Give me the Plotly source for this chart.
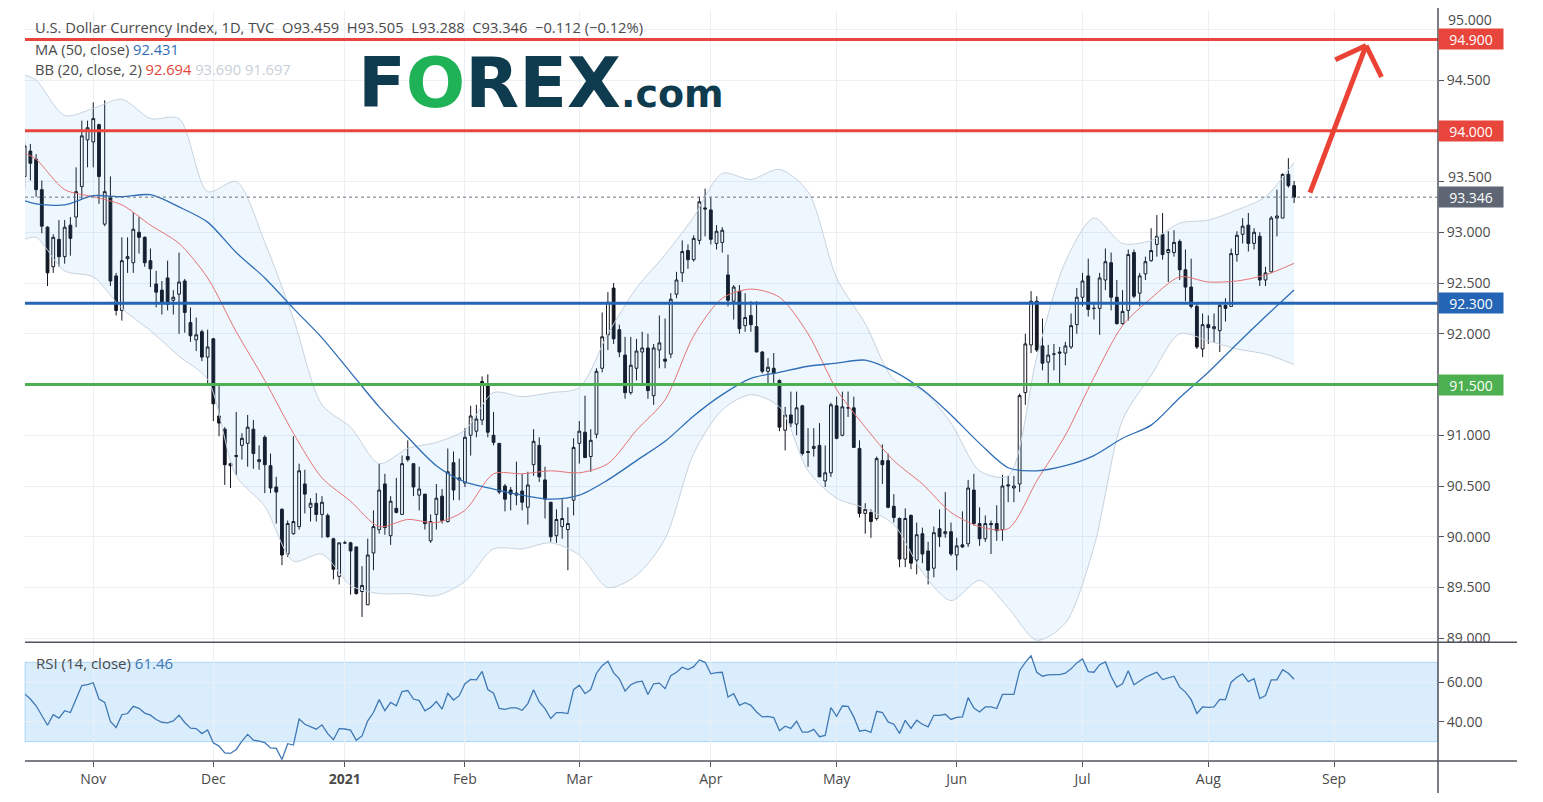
import pandas as pd
import plotly.graph_objects as go

# U.S. Dollar Index (TVC:DXY), daily bars 15 Oct 2020 - 23 Aug 2021, one line per month
dates = pd.bdate_range("2020-10-15", "2021-08-23") + pd.Timedelta(hours=12)

opens = [
    93.55, 93.80, 93.72, 93.42, 93.05, 92.66, 92.93, 92.76, 93.07, 93.15, 93.45, 93.91,
    93.89, 94.06, 93.08, 93.35, 92.57, 92.23, 92.74, 92.70, 93.00, 92.95, 92.72, 92.49, 92.43, 92.55, 92.33, 92.39, 92.52, 92.11, 91.94, 92.02, 91.77,
    91.95, 91.19, 91.06, 90.72, 90.79, 90.90, 90.92, 91.06, 90.74, 90.98, 90.70, 90.49, 90.27, 89.83, 90.03, 90.10, 90.52, 90.29, 90.33, 90.22, 90.21, 89.98, 89.61,
    89.94, 89.94, 89.90, 89.46, 89.33, 89.84, 90.07, 90.52, 90.01, 90.28, 90.22, 90.79, 90.72, 90.41, 90.42, 89.96, 90.22, 90.40, 90.15, 90.73, 90.56,
    90.53, 91.00, 91.04, 91.15, 91.49, 91.00, 90.92, 90.50, 90.46, 90.41, 90.45, 90.29, 90.71, 90.90, 90.56, 90.34, 90.01, 90.10, 90.07, 90.36,
    90.92, 91.03, 90.79, 91.01, 91.66, 91.99, 92.45, 92.04, 91.79, 91.42, 91.66, 91.82, 91.86, 91.39, 91.84, 91.75, 91.80, 92.39, 92.60, 92.82, 92.73, 92.92, 93.24,
    93.22, 92.89, 92.90, 92.58, 92.32, 92.42, 92.08, 92.18, 92.07, 91.82, 91.63, 91.66, 91.54, 91.05, 91.20, 91.11, 91.29, 90.84, 90.87, 90.90, 90.55, 90.63,
    91.29, 91.00, 91.27, 91.27, 90.87, 90.23, 90.24, 90.18, 90.75, 90.75, 90.30, 90.18, 89.78, 90.21, 89.77, 90.03, 89.86, 89.69, 90.08, 90.03, 90.05,
    89.82, 89.92, 89.93, 90.46, 90.13, 89.98, 90.13, 90.13, 90.07, 90.50, 90.48, 90.52, 91.42, 91.89, 92.32, 91.88, 91.72, 91.80, 91.82, 91.81, 91.87, 92.09,
    92.36, 92.57, 92.25, 92.25, 92.53, 92.70, 92.36, 92.10, 92.23, 92.80, 92.40, 92.59, 92.72, 92.88, 92.98, 92.80, 92.80, 92.91, 92.63, 92.46, 92.27, 91.85,
    92.09, 92.05, 92.03, 92.28, 92.27, 92.78, 92.98, 93.07, 92.89, 92.96, 92.53, 92.61, 93.14, 93.14, 93.57, 93.459,
]
highs = [
    93.90, 93.87, 93.77, 93.51, 93.06, 92.98, 93.12, 93.12, 93.15, 93.64, 94.10, 94.10,
    94.28, 94.07, 94.30, 93.55, 92.60, 92.95, 92.95, 93.20, 93.15, 92.96, 92.84, 92.62, 92.52, 92.72, 92.43, 92.80, 92.54, 92.26, 92.16, 92.04, 92.04,
    91.96, 91.50, 91.08, 90.73, 91.23, 91.02, 91.20, 91.15, 90.90, 91.00, 90.82, 90.59, 90.28, 90.16, 90.99, 90.72, 90.66, 90.38, 90.43, 90.40, 90.23, 89.99, 89.94,
    89.96, 89.95, 89.90, 89.71, 89.98, 90.26, 90.72, 90.62, 90.40, 90.58, 90.80, 90.95, 90.72, 90.69, 90.42, 90.22, 90.52, 90.47, 90.87, 90.84, 90.77,
    91.07, 91.29, 91.30, 91.58, 91.60, 91.23, 90.92, 90.52, 90.49, 90.74, 90.62, 90.64, 91.06, 90.98, 90.69, 90.34, 90.27, 90.37, 90.29, 90.97,
    91.14, 91.39, 91.06, 91.66, 92.21, 92.41, 92.50, 92.09, 91.97, 91.97, 91.95, 92.02, 92.00, 91.90, 92.18, 92.15, 92.40, 92.61, 92.92, 92.88, 92.97, 93.35, 93.43,
    93.34, 93.07, 93.05, 92.78, 92.48, 92.48, 92.40, 92.32, 92.32, 91.83, 91.76, 91.81, 91.55, 91.28, 91.43, 91.43, 91.30, 91.07, 91.07, 91.12, 90.90, 91.32,
    91.38, 91.43, 91.43, 91.38, 90.95, 90.33, 90.27, 90.79, 90.91, 90.82, 90.42, 90.19, 90.28, 90.22, 90.14, 90.09, 89.95, 90.10, 90.27, 90.44, 90.14,
    89.99, 90.25, 90.56, 90.62, 90.29, 90.21, 90.16, 90.31, 90.61, 90.60, 90.60, 91.41, 92.00, 92.42, 92.37, 92.15, 91.89, 91.90, 91.87, 91.92, 92.20, 92.45,
    92.60, 92.74, 92.30, 92.60, 92.84, 92.80, 92.53, 92.43, 92.83, 92.83, 92.60, 92.76, 93.04, 93.17, 93.19, 93.01, 93.02, 92.93, 92.83, 92.74, 92.30, 92.20,
    92.18, 92.20, 92.30, 92.35, 92.84, 93.01, 93.14, 93.19, 93.04, 93.00, 92.66, 93.16, 93.42, 93.58, 93.73, 93.505,
]
lows = [
    93.43, 93.51, 93.35, 92.99, 92.47, 92.60, 92.66, 92.69, 92.77, 93.05, 93.33, 93.64,
    93.64, 93.28, 93.06, 92.47, 92.18, 92.13, 92.60, 92.60, 92.79, 92.66, 92.46, 92.26, 92.19, 92.23, 92.19, 92.00, 92.01, 91.92, 91.83, 91.73, 91.50,
    91.14, 90.99, 90.51, 90.48, 90.61, 90.76, 90.69, 90.67, 90.66, 90.43, 90.43, 90.13, 89.72, 89.80, 90.02, 90.07, 90.23, 90.15, 90.15, 89.99, 89.99, 89.58, 89.53,
    89.93, 89.43, 89.43, 89.21, 89.33, 89.67, 90.03, 90.02, 89.92, 90.23, 90.22, 90.74, 90.40, 90.26, 90.07, 89.94, 90.07, 90.13, 90.14, 90.36, 90.36,
    90.49, 90.80, 90.98, 91.10, 90.98, 90.90, 90.42, 90.25, 90.26, 90.31, 90.26, 90.12, 90.60, 90.54, 90.18, 89.95, 89.94, 89.98, 89.67, 90.21,
    90.72, 90.78, 90.64, 90.97, 91.62, 91.84, 91.90, 91.77, 91.36, 91.40, 91.54, 91.50, 91.36, 91.30, 91.66, 91.66, 91.76, 92.35, 92.51, 92.64, 92.71, 92.88, 92.96,
    92.88, 92.83, 92.80, 92.27, 92.14, 92.00, 92.02, 92.02, 91.82, 91.61, 91.50, 91.50, 91.04, 90.85, 91.08, 91.00, 90.80, 90.69, 90.79, 90.59, 90.49, 90.59,
    90.96, 90.99, 91.18, 90.88, 90.19, 90.03, 89.99, 90.16, 90.52, 90.28, 90.14, 89.70, 89.70, 89.68, 89.63, 89.74, 89.53, 89.60, 89.90, 89.99, 89.81,
    89.67, 89.89, 89.90, 90.11, 89.91, 89.95, 89.83, 89.96, 89.96, 90.34, 90.34, 90.44, 91.30, 91.81, 91.82, 91.64, 91.51, 91.64, 91.51, 91.69, 91.85, 92.00,
    92.27, 92.17, 92.14, 91.99, 92.43, 92.23, 92.09, 92.09, 92.13, 92.35, 92.27, 92.53, 92.71, 92.76, 92.73, 92.51, 92.76, 92.53, 92.32, 92.25, 91.85, 91.77,
    91.90, 91.91, 91.82, 92.12, 92.27, 92.71, 92.89, 92.81, 92.83, 92.47, 92.47, 92.60, 92.96, 93.14, 93.44, 93.288,
]
closes = [
    93.85, 93.68, 93.42, 93.06, 92.60, 92.95, 92.76, 93.05, 92.94, 93.40, 93.95, 94.03,
    94.12, 93.55, 93.40, 92.52, 92.23, 92.72, 92.76, 93.03, 92.95, 92.70, 92.64, 92.41, 92.31, 92.29, 92.36, 92.51, 92.21, 91.98, 91.99, 91.77, 91.87,
    91.31, 91.12, 90.71, 90.70, 90.80, 90.97, 91.08, 90.82, 90.76, 90.71, 90.48, 90.44, 89.82, 90.13, 90.15, 90.65, 90.42, 90.33, 90.22, 90.34, 90.00, 89.68, 89.94,
    89.94, 89.86, 89.44, 89.52, 89.82, 90.10, 90.46, 90.09, 90.35, 90.24, 90.72, 90.76, 90.49, 90.47, 90.13, 90.15, 90.38, 90.16, 90.64, 90.46, 90.58,
    90.98, 91.19, 91.16, 91.53, 91.03, 90.93, 90.44, 90.37, 90.42, 90.43, 90.34, 90.51, 90.94, 90.59, 90.37, 90.00, 90.17, 90.18, 90.13, 90.88,
    91.04, 90.78, 90.95, 91.63, 91.97, 92.31, 91.95, 91.82, 91.42, 91.69, 91.83, 91.86, 91.44, 91.86, 91.91, 91.73, 92.34, 92.53, 92.81, 92.73, 92.94, 93.30, 93.23,
    92.93, 93.01, 93.02, 92.33, 92.46, 92.05, 92.16, 92.09, 91.82, 91.63, 91.67, 91.61, 91.08, 91.20, 91.12, 91.27, 90.82, 90.83, 90.89, 90.59, 90.63, 91.30,
    90.97, 91.28, 91.27, 90.88, 90.23, 90.27, 90.15, 90.77, 90.71, 90.29, 90.19, 89.78, 90.18, 89.74, 90.02, 89.83, 89.67, 90.04, 90.00, 90.05, 89.83,
    89.91, 89.90, 90.48, 90.13, 89.98, 90.13, 90.12, 90.06, 90.50, 90.51, 90.50, 91.39, 91.90, 92.32, 91.84, 91.71, 91.79, 91.80, 91.81, 91.88, 92.08, 92.36,
    92.52, 92.24, 92.25, 92.55, 92.71, 92.36, 92.10, 92.22, 92.78, 92.37, 92.57, 92.71, 92.82, 92.96, 92.78, 92.83, 92.90, 92.63, 92.46, 92.27, 91.87, 92.09,
    92.06, 92.07, 92.28, 92.25, 92.79, 92.97, 93.06, 92.89, 93.00, 92.53, 92.60, 93.14, 93.16, 93.57, 93.459, 93.346,
]
rsi = [
    54.1, 51.5, 48.1, 43.1, 38.3, 43.6, 41.9, 45.6, 44.7, 51.5, 58.3, 58.8,
    59.7, 51.5, 49.8, 40.2, 37.1, 43.6, 44.2, 47.8, 46.8, 44.4, 43.4, 41.2, 39.8, 39.5, 40.5, 43.4, 39.7, 36.8, 36.6, 34.1, 35.9,
    29.5, 27.8, 24.4, 24.1, 26.1, 30.3, 33.7, 30.8, 30.3, 29.5, 26.9, 26.6, 21.0, 29.0, 28.3, 41.4, 38.8, 37.5, 36.3, 38.5, 34.1, 31.0, 36.6,
    36.4, 35.8, 30.7, 32.9, 40.5, 44.7, 51.2, 45.6, 49.8, 48.1, 55.3, 55.8, 51.5, 50.7, 45.6, 47.3, 50.2, 46.4, 54.4, 51.0, 53.2,
    59.2, 61.4, 61.2, 65.4, 56.3, 54.4, 46.8, 46.3, 47.0, 47.0, 45.8, 49.2, 56.2, 50.0, 46.7, 41.7, 44.7, 44.7, 44.2, 56.2,
    58.5, 54.2, 56.3, 64.5, 68.3, 70.5, 64.7, 61.7, 55.5, 58.7, 60.0, 60.5, 53.8, 59.2, 59.5, 56.7, 63.3, 65.0, 67.5, 66.3, 67.8, 71.2, 70.0,
    64.2, 64.8, 65.0, 52.5, 54.2, 48.3, 49.7, 48.3, 45.0, 42.5, 42.8, 42.2, 35.5, 37.8, 36.7, 40.3, 34.8, 34.8, 36.2, 32.5, 33.2, 47.2,
    42.8, 48.0, 47.8, 42.5, 35.3, 35.8, 34.7, 45.3, 44.7, 40.0, 38.8, 34.2, 40.8, 36.7, 40.8, 38.8, 37.5, 43.3, 43.3, 43.8, 41.2,
    42.3, 42.5, 52.2, 47.0, 45.0, 47.5, 47.5, 46.7, 53.8, 53.8, 53.8, 65.8, 70.0, 73.3, 65.0, 63.0, 63.7, 63.8, 63.8, 64.5, 66.7, 69.7,
    71.7, 65.3, 65.0, 68.8, 70.2, 62.8, 57.5, 59.2, 65.7, 58.7, 60.8, 62.5, 63.8, 65.0, 61.3, 62.0, 63.0, 57.5, 55.0, 51.2, 44.2, 47.5,
    47.3, 47.5, 51.3, 51.2, 60.0, 62.5, 64.2, 60.3, 61.7, 51.7, 53.3, 61.2, 61.2, 66.3, 64.5, 61.46,
]

# indicator lines
ind_dates = [
    "2020-10-15", "2020-10-19", "2020-10-26", "2020-11-02", "2020-11-09", "2020-11-16", "2020-11-23", "2020-11-30",
    "2020-12-07", "2020-12-14", "2020-12-21", "2020-12-28", "2021-01-04", "2021-01-11", "2021-01-18", "2021-01-25",
    "2021-02-01", "2021-02-08", "2021-02-15", "2021-02-22", "2021-03-01", "2021-03-08", "2021-03-15", "2021-03-22",
    "2021-03-29", "2021-04-05", "2021-04-12", "2021-04-19", "2021-04-26", "2021-05-03", "2021-05-10", "2021-05-17",
    "2021-05-24", "2021-05-31", "2021-06-07", "2021-06-14", "2021-06-21", "2021-06-28", "2021-07-05", "2021-07-12",
    "2021-07-19", "2021-07-26", "2021-08-02", "2021-08-09", "2021-08-16", "2021-08-23",
]
ma50 = [93.31, 93.28, 93.27, 93.36, 93.35, 93.37, 93.25, 93.10, 92.80, 92.55, 92.25, 91.96, 91.62, 91.28, 90.98, 90.70,
        90.54, 90.47, 90.41, 90.37, 90.41, 90.56, 90.75, 90.94, 91.19, 91.40, 91.56, 91.62, 91.68, 91.71, 91.74, 91.63,
        91.45, 91.20, 90.92, 90.68, 90.65, 90.70, 90.80, 90.97, 91.10, 91.37, 91.62, 91.90, 92.17, 92.431]
bb_mid = [93.78, 93.72, 93.42, 93.35, 93.27, 93.07, 92.89, 92.55, 92.02, 91.54, 91.02, 90.58, 90.35, 90.10, 90.17, 90.14,
          90.26, 90.62, 90.62, 90.65, 90.63, 90.72, 91.05, 91.35, 91.98, 92.35, 92.44, 92.36, 92.00, 91.45, 91.08, 90.75,
          90.52, 90.24, 90.10, 90.08, 90.55, 91.00, 91.57, 92.08, 92.35, 92.56, 92.51, 92.52, 92.58, 92.694]
bb_up = [94.55, 94.50, 94.15, 94.22, 94.31, 94.12, 94.12, 93.40, 93.50, 92.90, 92.15, 91.30, 91.08, 90.72, 90.87, 90.93,
         91.05, 91.42, 91.38, 91.42, 91.47, 92.00, 92.45, 92.78, 93.15, 93.58, 93.52, 93.62, 93.40, 92.55, 92.10, 91.55,
         91.44, 91.12, 90.65, 90.60, 91.77, 92.71, 93.14, 92.89, 92.92, 93.09, 93.12, 93.22, 93.35, 93.69]
bb_lo = [92.93, 92.95, 92.62, 92.56, 92.25, 92.03, 91.78, 91.55, 90.60, 90.30, 89.76, 89.83, 89.52, 89.44, 89.44, 89.42,
         89.56, 89.88, 89.88, 89.94, 89.82, 89.50, 89.62, 89.98, 90.82, 91.25, 91.40, 91.28, 90.65, 90.38, 90.28, 90.12,
         89.65, 89.37, 89.57, 89.30, 88.98, 89.15, 89.90, 91.15, 91.59, 92.00, 91.93, 91.85, 91.80, 91.697]

levels = [94.9, 94.0, 92.3, 91.5]
level_colors = ["#e8453c", "#e8453c", "#2565b5", "#4caf50"]
last_close = 93.346

month_ticks = ["2020-11-02", "2020-12-01", "2021-01-01", "2021-02-01", "2021-03-01", "2021-04-01",
               "2021-05-03", "2021-06-01", "2021-07-01", "2021-08-02", "2021-09-01"]
month_labels = ["Nov", "Dec", "<b>2021</b>", "Feb", "Mar", "Apr", "May", "Jun", "Jul", "Aug", "Sep"]
price_ticks = [89.0, 89.5, 90.0, 90.5, 91.0, 91.5, 92.0, 92.5, 93.0, 93.5, 94.0, 94.5, 95.0]
# labels that sit under a price box are drawn separately, nudged clear of it
nudged = {95.0: 19, 93.5: 176}
boxed = {94.0, 91.5}

noon = pd.Timedelta(hours=12)
ind_x = pd.to_datetime(ind_dates) + noon
tick_x = pd.to_datetime(month_ticks) + noon

W, H = 1543, 802
ML, MR, MT, MB = 25, 105, 10, 41
PW, PH = W - ML - MR, H - MT - MB


def px(x):
    return (x - ML) / PW


def py(y):
    return (H - MB - y) / PH


split = py(642.3)
FONT = "Open Sans, DejaVu Sans, sans-serif"
TXT = "#4a4a4a"
GRID = "#eceff3"

fig = go.Figure()

smooth = dict(shape="spline", smoothing=0.8)
fig.add_trace(go.Scatter(x=ind_x, y=bb_up, mode="lines", line=dict(color="#c6d2de", width=1, **smooth),
                         hoverinfo="skip", showlegend=False))
fig.add_trace(go.Scatter(x=ind_x, y=bb_lo, mode="lines", line=dict(color="#c6d2de", width=1, **smooth),
                         fill="tonexty", fillcolor="rgba(33,150,243,0.08)", hoverinfo="skip", showlegend=False))
fig.add_trace(go.Scatter(x=ind_x, y=bb_mid, mode="lines", line=dict(color="#e57373", width=1, **smooth),
                         hoverinfo="skip", showlegend=False))
fig.add_trace(go.Scatter(x=ind_x, y=ma50, mode="lines", line=dict(color="#2f6eb5", width=1.3, **smooth),
                         hoverinfo="skip", showlegend=False))

fig.add_trace(go.Candlestick(
    x=dates, open=opens, high=highs, low=lows, close=closes,
    increasing=dict(line=dict(color="#131722", width=1), fillcolor="#ffffff"),
    decreasing=dict(line=dict(color="#131722", width=1), fillcolor="#131722"),
    whiskerwidth=0, showlegend=False,
))

fig.add_trace(go.Scatter(x=dates, y=rsi, mode="lines", line=dict(color="#3f78b3", width=1.3),
                         xaxis="x2", yaxis="y2", showlegend=False))

xcommon = dict(
    type="date",
    range=["2020-10-15 13:30", "2021-09-27 16:00"],
    rangebreaks=[dict(bounds=["sat", "mon"])],
    tickvals=tick_x, ticktext=month_labels,
    showgrid=True, gridcolor=GRID, gridwidth=1, zeroline=False, showline=False,
)

shapes = []
for val, col in zip(levels, level_colors):
    shapes.append(dict(type="line", xref="paper", x0=0, x1=1, yref="y", y0=val, y1=val,
                       line=dict(color=col, width=3)))
shapes.append(dict(type="line", xref="paper", x0=0, x1=1, yref="y", y0=last_close, y1=last_close,
                   line=dict(color="#6b7280", width=1, dash="dot")))
shapes.append(dict(type="rect", xref="paper", x0=0, x1=1, yref="y2", y0=30, y1=70, layer="below",
                   fillcolor="rgba(33,150,243,0.17)", line=dict(color="rgba(33,150,243,0.30)", width=1)))
# pane borders and price scale
for yy in (split, 0):
    shapes.append(dict(type="line", xref="paper", yref="paper", x0=0, x1=px(1517), y0=yy, y1=yy,
                       line=dict(color="#50535e", width=1.5)))
shapes.append(dict(type="line", xref="paper", yref="paper", x0=1, x1=1, y0=py(793), y1=py(8),
                   line=dict(color="#50535e", width=1.5)))
# hand-drawn arrow
arrow = dict(color="#ea4335", width=5)
shapes.append(dict(type="line", xref="x", yref="y", x0="2021-08-26 07:00", y0=93.39,
                   x1="2021-09-09 02:00", y1=94.84, line=arrow))
shapes.append(dict(type="line", xref="x", yref="y", x0="2021-09-01 17:00", y0=94.70,
                   x1="2021-09-09 02:00", y1=94.84, line=arrow))
shapes.append(dict(type="line", xref="x", yref="y", x0="2021-09-13 19:00", y0=94.53,
                   x1="2021-09-09 02:00", y1=94.84, line=arrow))

ann = []
for val, col in list(zip(levels, level_colors)) + [(last_close, "#5d6672")]:
    ann.append(dict(xref="paper", x=1, xanchor="left", yref="y", y=val, yanchor="middle",
                    text=f"{val:.3f}", showarrow=False, bgcolor=col, width=58, height=14, borderpad=3,
                    font=dict(family=FONT, size=14, color="#ffffff")))
for val, ypx in nudged.items():
    ann.append(dict(xref="paper", x=px(1446), xanchor="left", yref="paper", y=py(ypx), yanchor="middle",
                    text=f"{val:.3f}", showarrow=False, font=dict(family=FONT, size=14, color=TXT)))

LEG = dict(family=FONT, size=14.7, color=TXT)
title = ("U.S. Dollar Currency Index, 1D, TVC\u00a0\u00a0O93.459\u00a0\u00a0H93.505\u00a0\u00a0"
         "L93.288\u00a0\u00a0C93.346\u00a0\u00a0\u22120.112 (\u22120.12%)")
ann.append(dict(xref="paper", yref="paper", x=px(33), y=py(27.5), xanchor="left", yanchor="middle",
                text=title, showarrow=False, font=LEG))
ann.append(dict(xref="paper", yref="paper", x=px(33), y=py(48.5), xanchor="left", yanchor="middle",
                text="MA (50, close)\u00a0<span style='color:#2f6eb5'>92.431</span>", showarrow=False, font=LEG))
ann.append(dict(xref="paper", yref="paper", x=px(33), y=py(69), xanchor="left", yanchor="middle",
                text=("BB (20, close, 2)\u00a0<span style='color:#e0463a'>92.694</span>\u00a0"
                      "<span style='color:#c8d0d8'>93.690</span>\u00a0<span style='color:#c8d0d8'>91.697</span>"),
                showarrow=False, font=LEG))
ann.append(dict(xref="paper", yref="paper", x=px(34), y=py(663), xanchor="left", yanchor="middle",
                text="RSI (14, close)\u00a0<span style='color:#3f78b3'>61.46</span>", showarrow=False,
                font=dict(family=FONT, size=15, color=TXT)))
ann.append(dict(xref="paper", yref="paper", x=px(356), y=py(83), xanchor="left", yanchor="middle",
                text=("<b>F<span style='color:#1fb257'>O</span>REX"
                      "<span style='font-size:38px'>.com</span></b>"),
                showarrow=False, font=dict(family="DejaVu Sans", size=70, color="#0f3b4f")))

price_text = ["" if (v in nudged or v in boxed) else f"{v:.3f}" for v in price_ticks]

fig.update_layout(
    width=W, height=H,
    margin=dict(l=ML, r=MR, t=MT, b=MB),
    paper_bgcolor="#ffffff", plot_bgcolor="#ffffff",
    showlegend=False,
    font=dict(family=FONT, color=TXT),
    xaxis=dict(domain=[0, 1], anchor="y", showticklabels=False, ticks="",
               rangeslider=dict(visible=False), **xcommon),
    xaxis2=dict(domain=[0, 1], anchor="y2", matches="x", ticks="outside", ticklen=5,
                tickcolor="#50535e", tickfont=dict(family=FONT, size=14, color=TXT), **xcommon),
    yaxis=dict(domain=[split, 1], anchor="x", side="right", range=[88.96, 95.19],
               tickvals=price_ticks, ticktext=price_text,
               ticks="outside", ticklen=5, tickcolor="#50535e", showgrid=True, gridcolor=GRID,
               zeroline=False, showline=False, tickfont=dict(family=FONT, size=14, color=TXT)),
    yaxis2=dict(domain=[0, split], anchor="x2", side="right", range=[20.28, 80.08],
                tickvals=[40, 60], ticktext=["40.00", "60.00"],
                ticks="outside", ticklen=5, tickcolor="#50535e", showgrid=True, gridcolor=GRID,
                zeroline=False, showline=False, tickfont=dict(family=FONT, size=14, color=TXT)),
    shapes=shapes,
    annotations=ann,
)

fig.write_html("out.html", config={"displayModeBar": False},
               post_script="document.body.style.margin='0px';document.body.style.overflow='hidden';")
